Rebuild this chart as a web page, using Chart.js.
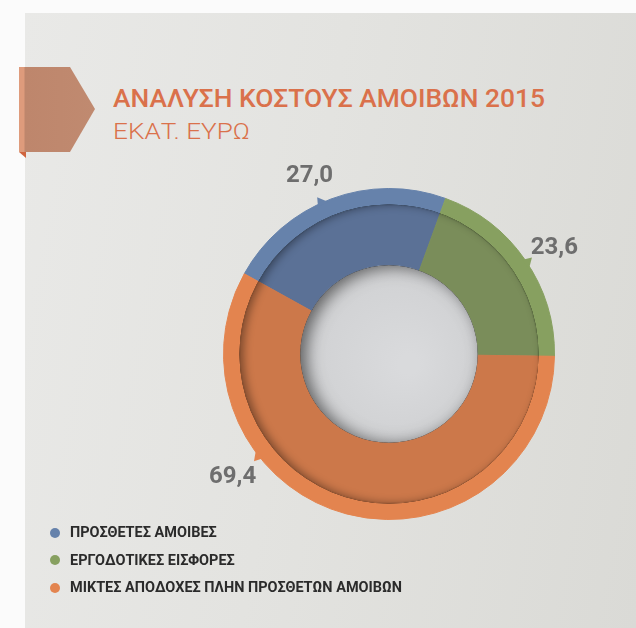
<!DOCTYPE html>
<html>
<head>
<meta charset="utf-8">
<script src="https://cdn.jsdelivr.net/npm/chart.js@4.4.1/dist/chart.umd.min.js"></script>
<style>
html,body{margin:0;padding:0;width:636px;height:628px;overflow:hidden;background:#fbfbfb;font-family:Roboto,"Noto Sans",sans-serif;}
#panel{position:absolute;left:25px;top:13px;right:0;bottom:0;background:linear-gradient(100deg,#e9e9e7 0%,#e3e3e0 45%,#dadad6 100%);}
#tab{position:absolute;left:19px;top:67px;width:77px;height:86px;background:linear-gradient(to right,#de9b7c 0px,#de9b7c 5px,#be866c 6px,#c08a70 100%);clip-path:polygon(0 0,51px 0,76px 42px,51px 85px,0 85px);}
#fold{position:absolute;left:19px;top:152px;width:7px;height:6px;background:#d0643e;clip-path:polygon(0 0,100% 0,100% 100%);}
.t{position:absolute;white-space:nowrap;line-height:1;transform-origin:0 0;color:#da714b;display:inline-block;}
#title{left:113px;top:84.7px;font-size:26.5px;font-weight:500;}
#sub{left:113px;top:120px;font-size:22.5px;font-weight:300;}
#wrap{position:absolute;left:0;top:0;width:636px;height:628px;}
.row{position:absolute;left:0;height:20px;width:600px;}
.dot{position:absolute;left:50px;top:2.5px;width:10px;height:10px;border-radius:50%;}
.lt{position:absolute;left:70px;top:0;font-size:15.5px;font-weight:700;color:#2b2b2b;line-height:1;white-space:nowrap;transform-origin:0 0;display:inline-block;}
</style>
</head>
<body>
<div id="panel"></div>
<div id="tab"></div>
<div id="fold"></div>
<div id="title" class="t">ΑΝΑΛΥΣΗ ΚΟΣΤΟΥΣ ΑΜΟΙΒΩΝ 2015</div>
<div id="sub" class="t">ΕΚΑΤ. ΕΥΡΩ</div>
<div id="wrap"><canvas id="c" width="636" height="628"></canvas></div>
<div id="legend"></div>
<script>
// ---- data ----
const categories = ['ΠΡΟΣΘΕΤΕΣ ΑΜΟΙΒΕΣ', 'ΕΡΓΟΔΟΤΙΚΕΣ ΕΙΣΦΟΡΕΣ', 'ΜΙΚΤΕΣ ΑΠΟΔΟΧΕΣ ΠΛΗΝ ΠΡΟΣΘΕΤΩΝ ΑΜΟΙΒΩΝ'];
const values = [27.0, 23.6, 69.4];
const ringColors = ['#6682ab', '#87a060', '#e3844f'];
const faceColors = ['#5b7196', '#7a8d5a', '#cc784a'];
const labelFrac = [0.46, 0.52, 0.68];

function fmt(v){ return v.toFixed(1).replace('.', ','); }

// ---- fit title widths ----
function fitWidth(el, target){
  const w = el.getBoundingClientRect().width;
  if (w > 0) el.style.transform = 'scaleX(' + (target / w) + ')';
}
fitWidth(document.getElementById('title'), 432);
fitWidth(document.getElementById('sub'), 137);

// ---- legend ----
const legendEl = document.getElementById('legend');
const rowTops = [525, 552.5, 580];
categories.forEach((c, i) => {
  const row = document.createElement('div');
  row.className = 'row';
  row.style.top = rowTops[i] + 'px';
  const dot = document.createElement('div');
  dot.className = 'dot';
  dot.style.background = ringColors[i];
  const t = document.createElement('span');
  t.className = 'lt';
  t.textContent = c;
  row.appendChild(dot); row.appendChild(t);
  legendEl.appendChild(row);
});
const lastText = legendEl.querySelectorAll('.lt');
const s = 332 / lastText[2].getBoundingClientRect().width;
lastText.forEach(el => el.style.transform = 'scaleX(' + s + ')');

// ---- chart ----
const shadePlugin = {
  id: 'shade',
  afterDatasetsDraw(chart) {
    const ctx = chart.ctx;
    const face = chart.getDatasetMeta(1).data[0].getProps(['x','y','innerRadius','outerRadius'], true);
    const x = face.x, y = face.y, ri = face.innerRadius, ro = face.outerRadius;
    const big = ro + 200;
    // inset shadow along outer edge of face
    ctx.save();
    ctx.beginPath();
    ctx.arc(x, y, ro, 0, Math.PI * 2);
    ctx.arc(x, y, ri, 0, Math.PI * 2, true);
    ctx.clip();
    ctx.beginPath();
    ctx.rect(x - big, y - big, big * 2, big * 2);
    ctx.arc(x, y, ro, 0, Math.PI * 2, true);
    ctx.shadowColor = 'rgba(0,0,0,0.38)';
    ctx.shadowBlur = 9;
    ctx.shadowOffsetX = 4;
    ctx.shadowOffsetY = 0;
    ctx.fillStyle = '#000';
    ctx.fill();
    ctx.restore();
    // thin dark rim line at face edge
    ctx.save();
    ctx.beginPath();
    ctx.arc(x, y, ro - 0.5, 0, Math.PI * 2);
    ctx.strokeStyle = 'rgba(0,0,0,0.08)';
    ctx.lineWidth = 1;
    ctx.stroke();
    ctx.restore();
    // hole
    ctx.save();
    ctx.beginPath();
    ctx.arc(x, y, ri, 0, Math.PI * 2);
    const g = ctx.createRadialGradient(x + 20, y + 10, 10, x, y, ri);
    g.addColorStop(0, '#d9dadc');
    g.addColorStop(1, '#d0d1d3');
    ctx.fillStyle = g;
    ctx.fill();
    ctx.clip();
    ctx.beginPath();
    ctx.rect(x - big, y - big, big * 2, big * 2);
    ctx.arc(x, y, ri, 0, Math.PI * 2, true);
    ctx.shadowColor = 'rgba(0,0,0,0.55)';
    ctx.shadowBlur = 16;
    ctx.shadowOffsetX = 6;
    ctx.shadowOffsetY = 2;
    ctx.fillStyle = '#000';
    ctx.fill();
    ctx.restore();
    // pointers and value labels
    const outer = chart.getDatasetMeta(0).data;
    ctx.save();
    ctx.font = 'bold 24px Roboto, "Noto Sans", sans-serif';
    ctx.textAlign = 'center';
    ctx.textBaseline = 'alphabetic';
    outer.forEach((arc, i) => {
      const p = arc.getProps(['x','y','startAngle','endAngle','outerRadius'], true);
      const a = p.startAngle + (p.endAngle - p.startAngle) * labelFrac[i];
      const R = p.outerRadius;
      ctx.beginPath();
      ctx.moveTo(p.x + Math.cos(a - 0.035) * (R - 2), p.y + Math.sin(a - 0.035) * (R - 2));
      ctx.lineTo(p.x + Math.cos(a - 0.015) * (R + 7), p.y + Math.sin(a - 0.015) * (R + 7));
      ctx.lineTo(p.x + Math.cos(a + 0.035) * (R - 2), p.y + Math.sin(a + 0.035) * (R - 2));
      ctx.closePath();
      ctx.fillStyle = ringColors[i];
      ctx.fill();
      const lr = R + 32;
      ctx.fillStyle = '#6e6e6e';
      ctx.fillText(fmt(values[i]), p.x + Math.cos(a) * lr, p.y + Math.sin(a) * lr + 8.5);
    });
    ctx.restore();
  }
};

new Chart(document.getElementById('c'), {
  type: 'doughnut',
  data: {
    labels: categories,
    datasets: [
      { data: values, backgroundColor: ringColors, borderColor: ringColors, borderWidth: 1, weight: 16 },
      { data: values, backgroundColor: faceColors, borderColor: faceColors, borderWidth: 1, weight: 61 }
    ]
  },
  options: {
    responsive: false,
    animation: false,
    events: [],
    rotation: -61,
    cutout: '53.6%',
    layout: { padding: { left: 223, right: 81, top: 188, bottom: 108 } },
    plugins: { legend: { display: false }, tooltip: { enabled: false }, title: { display: false } }
  },
  plugins: [shadePlugin]
});
</script>
</body>
</html>
